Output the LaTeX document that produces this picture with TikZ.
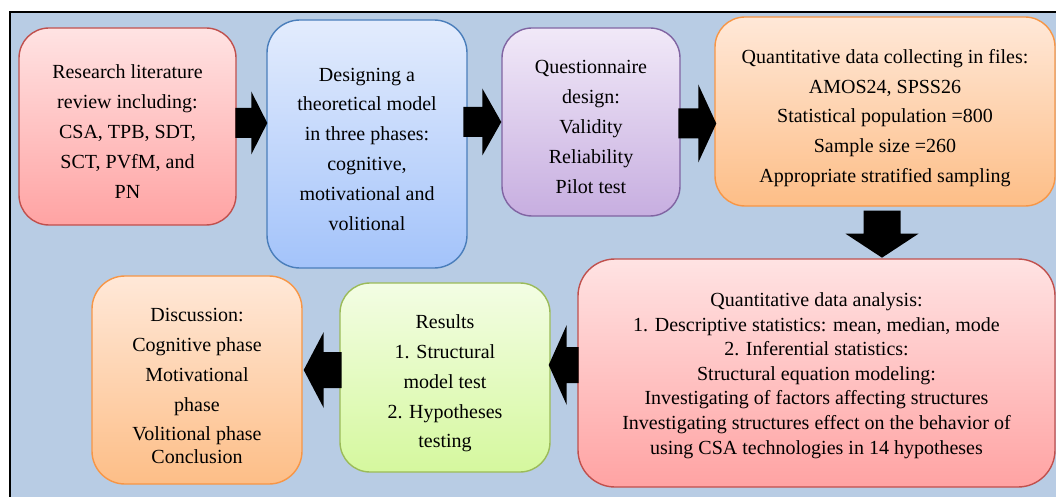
\documentclass[tikz,border=0pt]{standalone}
\usepackage{fontspec}
\setmainfont{Liberation Serif}
\usetikzlibrary{calc}

\definecolor{panelbg}{HTML}{B8CCE4}
\definecolor{redtop}{HTML}{FFE3E3}\definecolor{redbot}{HTML}{FFA3A3}\definecolor{redline}{HTML}{C0504D}
\definecolor{bluetop}{HTML}{E3ECFD}\definecolor{bluebot}{HTML}{A3C3FA}\definecolor{blueline}{HTML}{4A7EBB}
\definecolor{purptop}{HTML}{F1E9F8}\definecolor{purpbot}{HTML}{C7AEE0}\definecolor{purpline}{HTML}{8064A2}
\definecolor{orngtop}{HTML}{FFE8D8}\definecolor{orngbot}{HTML}{FDBE87}\definecolor{orngline}{HTML}{F79646}
\definecolor{grntop}{HTML}{F3FDE4}\definecolor{grnbot}{HTML}{D5F89E}\definecolor{grnline}{HTML}{9BBB59}

% block arrow: tip, direction angle, shaft half width, head half width, head length, total length
\newcommand{\blockarrow}[6]{%
  \fill[black, shift={(#1)}, rotate=#2]
    (0,0) -- (-#5,-#4) -- (-#5,-#3) -- (-#6,-#3) -- (-#6,#3) -- (-#5,#3) -- (-#5,#4) -- cycle;}

\tikzset{
  stagebox/.style={rectangle, inner sep=0pt, line width=1.4pt},
  stagetext/.style={inner sep=0pt, align=center, font=\fontsize{20}{29.8}\selectfont},
  redbox/.style={stagebox, draw=redline, top color=redtop, bottom color=redbot},
  bluebox/.style={stagebox, draw=blueline, top color=bluetop, bottom color=bluebot},
  purpbox/.style={stagebox, draw=purpline, top color=purptop, bottom color=purpbot},
  orngbox/.style={stagebox, draw=orngline, top color=orngtop, bottom color=orngbot},
  grnbox/.style={stagebox, draw=grnline, top color=grntop, bottom color=grnbot},
}

\begin{document}
\begin{tikzpicture}[x=1pt, y=-1pt]
\useasboundingbox (0,0) rectangle (1056,497);
\clip (0,0) rectangle (1056,497);
\fill[white] (0,0) rectangle (1056,497);
\draw[line width=2.2pt, fill=panelbg] (10,12) rectangle (1080,520);

% stage boxes
\node[redbox, minimum width=217pt, minimum height=197pt, rounded corners=30pt] (lit) at (127.5,126.5) {};
\node[bluebox, minimum width=200pt, minimum height=248pt, rounded corners=33pt] (model) at (367,144) {};
\node[purpbox, minimum width=178pt, minimum height=188pt, rounded corners=30pt] (quest) at (591,122) {};
\node[orngbox, minimum width=340pt, minimum height=189pt, rounded corners=30pt] (collect) at (885,111.5) {};
\node[redbox, minimum width=477pt, minimum height=228pt, rounded corners=37pt] (analysis) at (816.5,373) {};
\node[grnbox, minimum width=210pt, minimum height=189pt, rounded corners=30pt] (results) at (445,377.5) {};
\node[orngbox, minimum width=210pt, minimum height=208pt, rounded corners=33pt] (discuss) at (197,380) {};

% box texts
\node[stagetext] (lit-t) at ($(lit)+(0,5)$)
  {Research literature\\review including:\\CSA, TPB, SDT,\\SCT, PVfM, and\\PN};
\node[stagetext] (model-t) at ($(model)+(0,5)$)
  {Designing a\\theoretical model\\in three phases:\\cognitive,\\motivational and\\volitional};
\node[stagetext] (quest-t) at ($(quest)+(0,5)$)
  {Questionnaire\\design:\\Validity\\Reliability\\Pilot test};
\node[stagetext] (collect-t) at ($(collect)+(0,6.5)$)
  {Quantitative data collecting in files:\\AMOS24, SPSS26\\Statistical population =800\\Sample size =260\\Appropriate stratified sampling};
\node[stagetext, font=\fontsize{20}{24.6}\selectfont] (analysis-t) at ($(analysis)+(0,2.5)$)
  {Quantitative data analysis:\\1. Descriptive statistics: mean, median, mode\\2. Inferential statistics:\\Structural equation modeling:\\Investigating of factors affecting structures\\Investigating structures effect on the behavior of\\using CSA technologies in 14 hypotheses};
\node[stagetext] (results-t) at ($(results)+(0,6)$)
  {Results\\1. Structural\\model test\\2. Hypotheses\\testing};
\node[stagetext] (discuss-t) at ($(discuss)+(0,6)$)
  {Discussion:\\Cognitive phase\\Motivational\\phase\\Volitional phase\\[-7.5pt]Conclusion};

% flow arrows between the stages
\blockarrow{$(model.west)+(1,-21)$}{0}{15}{31.5}{16}{32}
\blockarrow{$(quest.west)+(0,0)$}{0}{15}{33.5}{19}{38}
\blockarrow{$(collect.west)+(2,12)$}{0}{15}{39}{18}{38}
\blockarrow{$(collect.south)+(-3,51)$}{-90}{18.5}{36.5}{24}{47}
\blockarrow{$(results.east)+(-2,-12.5)$}{180}{18}{40}{18}{30}
\blockarrow{$(discuss.east)+(1,-10)$}{180}{18}{38}{20}{38}
\end{tikzpicture}
\end{document}
